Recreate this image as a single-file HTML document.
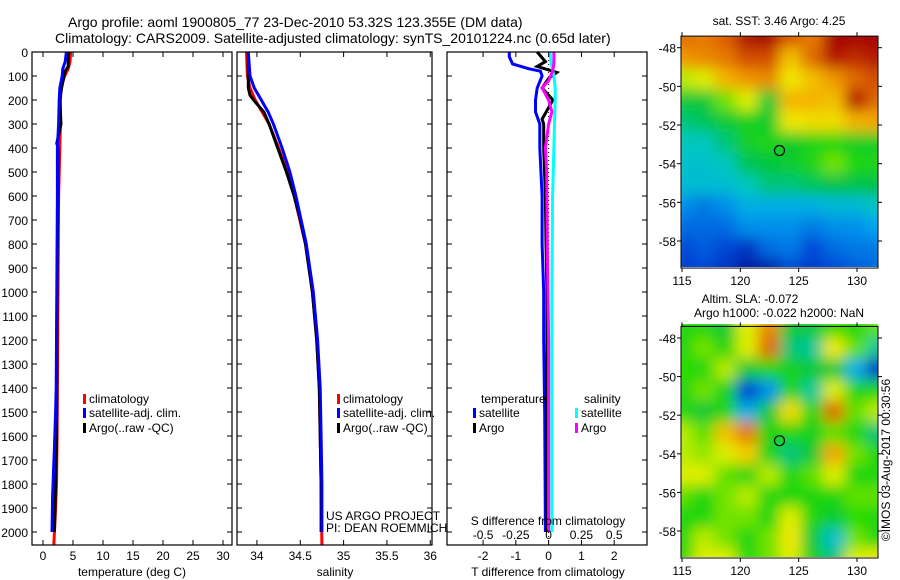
<!DOCTYPE html>
<html><head><meta charset="utf-8">
<style>
body{margin:0;background:#fff;}
svg{display:block;font-family:"Liberation Sans",sans-serif;}
text{fill:#000;}
</style></head>
<body>
<svg id="fig" width="900" height="580" viewBox="0 0 900 580" xmlns="http://www.w3.org/2000/svg">
<defs>
<filter id="blur" x="0" y="0" width="1" height="1"><feGaussianBlur stdDeviation="7"/></filter>
<clipPath id="clipM1"><rect x="681" y="36" width="197" height="231"/></clipPath>
<clipPath id="clipM2"><rect x="681" y="324" width="197" height="233"/></clipPath>
</defs>
<text x="68" y="27" font-size="14">Argo profile: aoml 1900805_77 23-Dec-2010 53.32S 123.355E (DM data)</text>
<text x="55" y="43" font-size="14">Climatology: CARS2009. Satellite-adjusted climatology: synTS_20101224.nc (0.65d later)</text>
<g id="plots"></g>
<text x="779" y="25" font-size="12" text-anchor="middle">sat. SST: 3.46 Argo: 4.25</text>
<text x="750" y="303" font-size="12" text-anchor="middle">Altim. SLA: -0.072</text>
<text x="779" y="317" font-size="12" text-anchor="middle">Argo h1000: -0.022 h2000: NaN</text>
<text font-size="12" transform="translate(890,460) rotate(-90)" text-anchor="middle">©IMOS 03-Aug-2017 00:30:56</text>
</svg>
<script>
// ---- profile data ----
const tempClimDepth=[0,40,70,100,150,200,300,400,600,800,1000,1200,1400,1600,1800,1900,2055];
const tempClim=[4.6,4.5,4.2,3.6,3.0,2.9,2.9,2.8,2.6,2.55,2.5,2.45,2.4,2.35,2.25,2.1,1.8];
const tempSatDepth=[0,40,70,100,150,200,300,400,600,800,1000,1200,1400,1500,1650,1850,2000];
const tempSat=[3.9,3.7,3.3,3.2,2.8,2.7,2.6,2.4,2.4,2.35,2.3,2.25,2.2,2.1,1.9,1.6,1.5];
const tempArgoDepth=[0,30,60,80,100,150,200,300,380,400,600,800,1000,1200,1400,1600,1800,2000];
const tempArgo=[4.3,4.2,4.2,3.7,3.5,3.1,2.8,3.0,2.3,2.5,2.5,2.4,2.35,2.3,2.3,2.25,2.1,1.9];

const salClimDepth=[0,100,150,200,300,400,500,600,800,1000,1200,1400,1600,1800,2055];
const salClim=[33.88,33.89,33.92,33.98,34.14,34.25,34.35,34.43,34.56,34.64,34.69,34.72,34.73,34.74,34.75];
const salSatDepth=[0,100,150,200,250,300,400,500,600,800,1000,1200,1400,1600,1800,2000];
const salSat=[33.9,33.92,33.97,34.05,34.13,34.19,34.29,34.38,34.45,34.57,34.65,34.7,34.73,34.74,34.75,34.75];
const salArgoDepth=[0,100,150,180,200,250,300,400,500,600,700,800,900,1000,1200,1400,1600,1800,2000];
const salArgo=[33.9,33.9,33.9,33.92,33.96,34.08,34.14,34.24,34.34,34.43,34.5,34.56,34.6,34.64,34.69,34.72,34.73,34.74,34.74];

const dTSatDepth=[0,20,50,70,80,100,150,200,250,300,400,600,800,1000,1200,1500,2000];
const dTSat=[-1.2,-1.2,-1.1,-0.6,-0.25,-0.2,-0.35,-0.4,-0.4,-0.27,-0.27,-0.2,-0.2,-0.15,-0.15,-0.12,-0.1];
const dTArgoDepth=[0,40,60,85,110,150,200,280,300,400,600,800,1000,1500,2000];
const dTArgo=[-0.35,-0.1,-0.35,0.25,0.0,-0.2,0.13,-0.2,-0.15,-0.15,-0.1,-0.08,-0.05,-0.05,-0.05];
const dSSatDepth=[0,50,100,150,200,300,400,600,1000,1500,2000];
const dSSat=[0.01,0.02,0.04,0.05,0.05,0.045,0.04,0.03,0.025,0.025,0.025];
const dSArgoDepth=[0,50,80,120,150,200,250,300,400,500,800,1200,2000];
const dSArgo=[0.04,0.04,0.03,0.0,-0.05,0.0,0.025,0.0,-0.025,-0.015,-0.01,0.0,0.0];

const depthTicks=[0,100,200,300,400,500,600,700,800,900,1000,1100,1200,1300,1400,1500,1600,1700,1800,1900,2000];
const tempTicks=[0,5,10,15,20,25,30];
const salTicks=[34,34.5,35,35.5,36];
const salTickLabels=["34","34.5","35","35.5","36"];
const dTTicks=[-2,-1,0,1,2];
const dSTicks=[-0.5,-0.25,0,0.25,0.5];
const dSTickLabels=["-0.5","-0.25","0","0.25","0.5"];

// ---- map data (normalised colour values) ----
const sstGrid=[
[0.82,0.8,0.84,0.94,0.95,0.85,0.8,0.95,0.95,0.95],
[0.76,0.78,0.8,0.86,0.86,0.7,0.82,0.92,0.9,0.92],
[0.6,0.62,0.72,0.76,0.78,0.64,0.7,0.76,0.82,0.86],
[0.45,0.45,0.56,0.62,0.45,0.72,0.72,0.7,0.92,0.82],
[0.4,0.42,0.45,0.48,0.46,0.64,0.66,0.66,0.72,0.74],
[0.36,0.36,0.4,0.47,0.49,0.46,0.49,0.5,0.47,0.47],
[0.34,0.34,0.36,0.42,0.44,0.46,0.49,0.56,0.5,0.49],
[0.33,0.33,0.33,0.36,0.4,0.4,0.42,0.43,0.43,0.43],
[0.25,0.22,0.25,0.3,0.3,0.3,0.3,0.32,0.32,0.35],
[0.2,0.2,0.2,0.25,0.25,0.25,0.22,0.25,0.25,0.28],
[0.15,0.18,0.15,0.1,0.2,0.22,0.15,0.2,0.22,0.22],
[0.12,0.15,0.1,0.03,0.04,0.15,0.12,0.15,0.18,0.2]];
const slaGrid=[
[0.5,0.5,0.45,0.62,0.78,0.45,0.45,0.52,0.5,0.55],
[0.5,0.56,0.5,0.62,0.82,0.4,0.38,0.64,0.55,0.38],
[0.52,0.5,0.6,0.45,0.5,0.48,0.45,0.45,0.3,0.1],
[0.5,0.56,0.48,0.14,0.25,0.5,0.38,0.62,0.5,0.5],
[0.5,0.45,0.5,0.3,0.45,0.66,0.5,0.82,0.55,0.6],
[0.6,0.55,0.7,0.8,0.5,0.5,0.48,0.55,0.5,0.4],
[0.6,0.58,0.62,0.68,0.48,0.4,0.45,0.74,0.56,0.5],
[0.62,0.62,0.55,0.5,0.6,0.5,0.55,0.62,0.5,0.5],
[0.55,0.5,0.56,0.6,0.5,0.5,0.5,0.5,0.55,0.55],
[0.5,0.5,0.56,0.56,0.5,0.62,0.5,0.46,0.52,0.5],
[0.5,0.6,0.56,0.5,0.56,0.64,0.45,0.34,0.56,0.5],
[0.5,0.62,0.62,0.5,0.56,0.62,0.48,0.4,0.62,0.64]];
const latTicks=[-48,-50,-52,-54,-56,-58];
const lonTicks=[115,120,125,130];
const argoLat=-53.32, argoLon=123.355;

const NS="http://www.w3.org/2000/svg";
const root=document.getElementById('plots');
function el(tag,attrs,parent){const e=document.createElementNS(NS,tag);for(const k in attrs)e.setAttribute(k,attrs[k]);(parent||root).appendChild(e);return e;}
function txt(s,attrs,parent){const e=el('text',attrs,parent);e.textContent=s;return e;}

const Y0=52, PB=545;
function yD(d){return Y0+d*0.24;}

function panel(name,x0,x1,xmin,xmax){
  const g=el('g',{});
  
  
  const xf=v=>x0+(v-xmin)/(xmax-xmin)*(x1-x0);
  return {g,xf,x0,x1};
}
function drawLine(p,depths,vals,color,name,scale){
  const pts=depths.map((d,i)=>p.xf(vals[i]*(scale||1)).toFixed(1)+','+yD(d).toFixed(1)).join(' ');
  const l=el('polyline',{points:pts,fill:'none',stroke:color,'stroke-width':3,'stroke-linejoin':'miter'},p.g);
  
  
}
function frame(p,name){
  const r=el('rect',{x:p.x0,y:Y0,width:p.x1-p.x0,height:PB-Y0,fill:'none',stroke:'#000','stroke-width':1.2},p.g);
  
  
  depthTicks.forEach(d=>{
    el('line',{x1:p.x0,x2:p.x0+5,y1:yD(d),y2:yD(d),stroke:'#000'},p.g);
    el('line',{x1:p.x1,x2:p.x1-5,y1:yD(d),y2:yD(d),stroke:'#000'},p.g);
  });
}
function xticks(p,ticks,labels,labelY,name){
  ticks.forEach((t,i)=>{
    const x=p.xf(t);
    el('line',{x1:x,x2:x,y1:Y0,y2:Y0+5,stroke:'#000'},p.g);
    el('line',{x1:x,x2:x,y1:PB,y2:PB-5,stroke:'#000'},p.g);
    const tl=txt(labels?labels[i]:String(t),{x:x,y:labelY,'font-size':12,'text-anchor':'middle'},p.g);
    
    
  });
}
function legendEntry(p,x,y,color,label,name){
  el('rect',{x:x,y:y-9,width:3,height:10,fill:color},p.g);
  const t=txt(label,{x:x+6,y:y,'font-size':12},p.g);
  
  
}

// Panel 1 temperature
const p1=panel('temperature-panel',32,232,-1.83,31.5);
depthTicks.forEach(d=>{const t=txt(String(d),{x:28,y:yD(d)+5,'font-size':12,'text-anchor':'end'},p1.g);
  
  });
drawLine(p1,tempClimDepth,tempClim,'#f00','temp-climatology-line');
drawLine(p1,tempArgoDepth,tempArgo,'#000','temp-argo-line');
drawLine(p1,tempSatDepth,tempSat,'#00f','temp-satellite-line');
frame(p1,'temperature-axes');
xticks(p1,tempTicks,null,560,'temp-tick-label');
let t1=txt('temperature (deg C)',{x:132,y:576,'font-size':12,'text-anchor':'middle'},p1.g);


legendEntry(p1,83,403,'#f00','climatology','legend-climatology');
legendEntry(p1,83,417,'#00f','satellite-adj. clim.','legend-satellite');
legendEntry(p1,83,432,'#000','Argo(..raw -QC)','legend-argo');

// Panel 2 salinity
const p2=panel('salinity-panel',237,432,33.77,36.02);
drawLine(p2,salClimDepth,salClim,'#f00','sal-climatology-line');
drawLine(p2,salArgoDepth,salArgo,'#000','sal-argo-line');
drawLine(p2,salSatDepth,salSat,'#00f','sal-satellite-line');
frame(p2,'salinity-axes');
xticks(p2,salTicks,salTickLabels,560,'sal-tick-label');
let t2=txt('salinity',{x:335,y:576,'font-size':12,'text-anchor':'middle'},p2.g);


legendEntry(p2,337,403,'#f00','climatology','legend-climatology');
legendEntry(p2,337,417,'#00f','satellite-adj. clim.','legend-satellite');
legendEntry(p2,337,432,'#000','Argo(..raw -QC)','legend-argo');
let c1=txt('US ARGO PROJECT',{x:326,y:520,'font-size':12},p2.g);


let c2=txt('PI: DEAN ROEMMICH',{x:326,y:532,'font-size':12},p2.g);



// Panel 3 differences (S plotted scaled x4)
const p3=panel('difference-panel',447,647,-3.1,3.0);
el('line',{x1:p3.xf(0),x2:p3.xf(0),y1:Y0,y2:PB,stroke:'#000','stroke-dasharray':'1,3'},p3.g);
drawLine(p3,dTSatDepth,dTSat,'#00f','dT-satellite-line');
drawLine(p3,dTArgoDepth,dTArgo,'#000','dT-argo-line');
drawLine(p3,dSSatDepth,dSSat,'#0ff','dS-satellite-line',4);
drawLine(p3,dSArgoDepth,dSArgo,'#f0f','dS-argo-line',4);
frame(p3,'difference-axes');
xticks(p3,dTTicks,null,560,'dT-tick-label');
dSTicks.forEach((s,i)=>{const t=txt(dSTickLabels[i],{x:p3.xf(s*4),y:539,'font-size':12,'text-anchor':'middle'},p3.g);
  
  });
let t3=txt('S difference from climatology',{x:548,y:525,'font-size':12,'text-anchor':'middle'},p3.g);


let t4=txt('T difference from climatology',{x:548,y:576,'font-size':12,'text-anchor':'middle'},p3.g);


let lh1=txt('temperature',{x:481,y:403,'font-size':12},p3.g);


let lh2=txt('salinity',{x:584,y:403,'font-size':12},p3.g);


legendEntry(p3,473,417,'#00f','satellite','legend-t-satellite');
legendEntry(p3,473,432,'#000','Argo','legend-t-argo');
legendEntry(p3,575,417,'#0ff','satellite','legend-s-satellite');
legendEntry(p3,575,432,'#f0f','Argo','legend-s-argo');

// ---- maps ----
const stops=[[0,[0,16,150]],[0.15,[0,70,215]],[0.28,[0,165,240]],[0.36,[0,200,190]],[0.43,[0,195,70]],[0.52,[40,220,0]],[0.63,[240,240,0]],[0.74,[245,165,0]],[0.85,[215,85,0]],[0.95,[165,0,0]],[1,[140,0,0]]];
function cmap(v){for(let i=1;i<stops.length;i++){if(v<=stops[i][0]){const a=stops[i-1],b=stops[i];const f=(v-a[0])/(b[0]-a[0]);
  const c=a[1].map((x,k)=>Math.round(x+(b[1][k]-x)*f));return 'rgb('+c.join(',')+')';}}return 'rgb(140,0,0)';}
function map(name,grid,top,bottom,clipId){
  const x0=681,x1=878;
  const g=el('g',{});
  
  
  const lonF=lo=>682+(lo-115)*(175/15);
  const latF=la=>top+(-48-la)*((bottom-top)/10);
  const cg=el('g',{'clip-path':'url(#'+clipId+')'},g);
  const bg=el('g',{filter:'url(#blur)'},cg);
  const rows=grid.length, cols=grid[0].length;
  const cw=(x1-x0+20)/cols, ch=((latF(-59.5)-latF(-47.4))+20)/rows;
  grid.forEach((row,r)=>row.forEach((v,c)=>{
    const cell=el('rect',{x:x0-10+c*cw,y:latF(-47.4)-10+r*ch,width:cw+1,height:ch+1,fill:cmap(v)},bg);
    
    
  }));
  const fr=el('rect',{x:x0,y:latF(-47.4),width:x1-x0,height:latF(-59.4)-latF(-47.4),fill:'none',stroke:'#000'},g);
  
  
  latTicks.forEach(la=>{const y=latF(la);
    el('line',{x1:x0-4,x2:x0,y1:y,y2:y,stroke:'#000'},g);
    el('line',{x1:x1,x2:x1+4,y1:y,y2:y,stroke:'#000'},g);
    const t=txt(String(la),{x:x0-5,y:y+5,'font-size':12,'text-anchor':'end'},g);
    
    });
  const yb=latF(-59.4);
  lonTicks.forEach(lo=>{const x=lonF(lo);
    el('line',{x1:x,x2:x,y1:yb,y2:yb+4,stroke:'#000'},g);
    el('line',{x1:x,x2:x,y1:latF(-47.4),y2:latF(-47.4)-4,stroke:'#000'},g);
    const t=txt(String(lo),{x:x,y:yb+17,'font-size':12,'text-anchor':'middle'},g);
    
    });
  const m=el('circle',{cx:lonF(argoLon),cy:latF(argoLat),r:5,fill:'none',stroke:'#000','stroke-width':1.2},g);
  
  
}
map('sst-map',sstGrid,47.7,241,'clipM1');
map('sla-map',slaGrid,338,531,'clipM2');
</script>
</body></html>
